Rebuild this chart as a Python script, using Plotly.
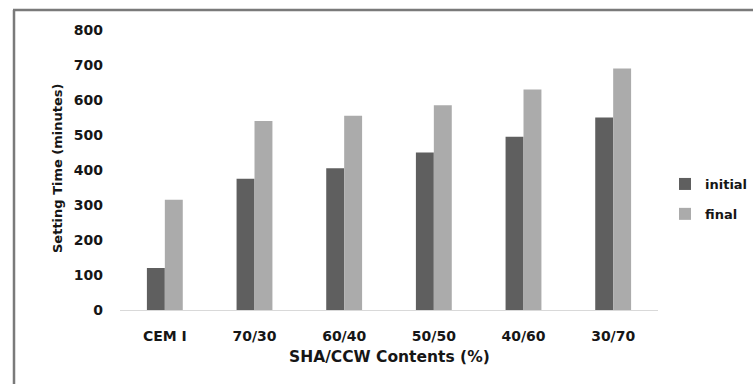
import plotly.graph_objects as go

# Setting time of the blended pastes
categories = ["CEM I", "70/30", "60/40", "50/50", "40/60", "30/70"]
initial_setting = [120, 375, 405, 450, 495, 550]
final_setting = [315, 540, 555, 585, 630, 690]
y_ticks = [0, 100, 200, 300, 400, 500, 600, 700, 800]

# Fragment of the table row printed just above the figure frame
table_row = ["30.76", "37.4", "19.8", "5.0", "11"]
table_row_x = [33, 108, 237, 368, 745]

W, H = 753, 384
L, R, T, B = 120, 95, 30, 74
PW, PH = W - L - R, H - T - B

FONT = "DejaVu Sans"
INK = "#161616"
DARK = "#5f5f5f"
LIGHT = "#ababab"


def px(x):
    return (x - L) / PW


def py(y):
    return (H - B - y) / PH


fig = go.Figure()
fig.add_trace(go.Bar(x=categories, y=initial_setting, name="initial",
                     legendgroup="initial",
                     marker=dict(color=DARK, line=dict(width=0))))
fig.add_trace(go.Bar(x=categories, y=final_setting, name="final",
                     legendgroup="final",
                     marker=dict(color=LIGHT, line=dict(width=0))))

fig.update_layout(
    width=W, height=H,
    margin=dict(l=L, r=R, t=T, b=B, pad=0, autoexpand=False),
    paper_bgcolor="white", plot_bgcolor="white",
    barmode="group", bargap=0.6, bargroupgap=0,
    font=dict(family=FONT, color=INK),
    showlegend=True,
    legend=dict(x=px(665), y=py(169), xanchor="left", yanchor="top",
                font=dict(family=FONT, size=13, color=INK, weight="bold"),
                itemwidth=30, traceorder="grouped", tracegroupgap=10,
                bgcolor="rgba(0,0,0,0)"),
    xaxis=dict(showgrid=False, zeroline=False, showline=True,
               linecolor="#d9d9d9", linewidth=1, ticks="",
               tickfont=dict(family=FONT, size=14, weight="bold", color=INK),
               ticklabelstandoff=13),
    yaxis=dict(range=[0, 800], tickvals=y_ticks, showgrid=False,
               zeroline=False, showline=False, ticks="",
               tickfont=dict(family=FONT, size=14, weight="bold", color=INK),
               ticklabelstandoff=16),
)

# Axis titles
fig.add_annotation(text="Setting Time (minutes)", xref="paper", yref="paper",
                   x=px(57), y=py(168), textangle=-90, showarrow=False,
                   font=dict(family=FONT, size=13, weight="bold", color=INK),
                   xanchor="center", yanchor="middle")
fig.add_annotation(text="SHA/CCW Contents (%)", xref="paper", yref="paper",
                   x=px(389), y=py(357), showarrow=False,
                   font=dict(family=FONT, size=15.5, weight="bold", color=INK),
                   xanchor="center", yanchor="middle")

# Frame of the figure: top rule and left rule
fig.add_shape(type="line", xref="paper", yref="paper",
              x0=px(13), x1=px(W + 2), y0=py(10), y1=py(10),
              line=dict(color="#7a7a7a", width=2.5))
fig.add_shape(type="line", xref="paper", yref="paper",
              x0=px(14), x1=px(14), y0=py(10), y1=py(H + 2),
              line=dict(color="#7a7a7a", width=2.5))

# Clipped table text above the frame
for label, xpos in zip(table_row, table_row_x):
    fig.add_annotation(text=label, xref="paper", yref="paper",
                       x=px(xpos), y=py(-3), showarrow=False,
                       font=dict(family=FONT, size=11, color="#555555"),
                       xanchor="center", yanchor="middle")

fig.write_html("out.html")
